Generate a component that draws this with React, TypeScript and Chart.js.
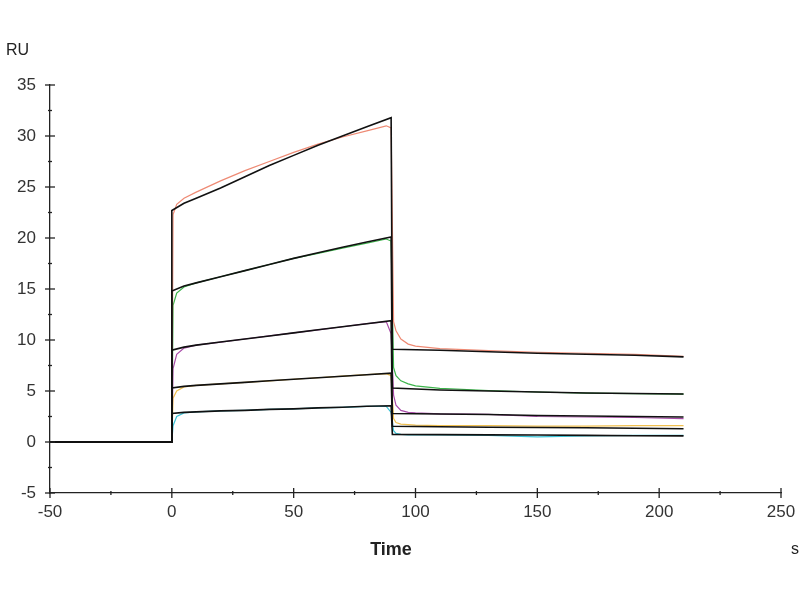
import React, { useEffect, useRef } from 'react';
import { Chart, registerables } from 'chart.js';

Chart.register(...registerables);

// measured curves (sampled at dataTime)
const dataTime = [-50, 0, 0.5, 2, 5, 10, 20, 30, 40, 50, 60, 70, 80, 88, 90, 91, 92, 94, 97, 100, 110, 130, 150, 170, 190, 210];
const salmonData = [0, 0, 22.3, 23.3, 23.9, 24.5, 25.6, 26.6, 27.5, 28.4, 29.2, 29.9, 30.5, 31.0, 30.8, 11.8, 10.9, 10.1, 9.6, 9.4, 9.15, 8.95, 8.8, 8.7, 8.6, 8.4];
const greenData = [0, 0, 13.4, 14.6, 15.2, 15.6, 16.2, 16.8, 17.4, 18.0, 18.5, 19.0, 19.5, 19.9, 19.7, 7.3, 6.5, 6.0, 5.7, 5.5, 5.25, 5.05, 4.9, 4.8, 4.75, 4.7];
const purpleData = [0, 0, 7.2, 8.6, 9.2, 9.5, 9.8, 10.1, 10.4, 10.7, 11.0, 11.3, 11.6, 11.8, 10.6, 4.6, 3.6, 3.1, 2.9, 2.85, 2.75, 2.7, 2.5, 2.45, 2.4, 2.3];
const yellowData = [0, 0, 4.3, 5.0, 5.4, 5.55, 5.7, 5.85, 6.0, 6.15, 6.3, 6.45, 6.6, 6.7, 6.5, 2.3, 1.9, 1.75, 1.7, 1.65, 1.6, 1.6, 1.55, 1.55, 1.6, 1.6];
const cyanData = [0, 0, 1.6, 2.5, 2.85, 2.95, 3.05, 3.1, 3.2, 3.25, 3.35, 3.4, 3.5, 3.5, 2.9, 1.1, 0.85, 0.75, 0.7, 0.7, 0.7, 0.65, 0.5, 0.6, 0.65, 0.65];

// fitted curves (black)
const fitTime = [-50, 0, 0, 5, 10, 20, 30, 40, 50, 60, 70, 80, 90, 90.5, 110, 130, 150, 170, 190, 210];
const fit1 = [0, 0, 22.7, 23.4, 23.9, 24.9, 26.0, 27.1, 28.1, 29.1, 30.0, 30.9, 31.8, 9.1, 9.0, 8.85, 8.7, 8.6, 8.5, 8.35];
const fit2 = [0, 0, 14.8, 15.3, 15.6, 16.2, 16.8, 17.4, 18.0, 18.55, 19.1, 19.6, 20.1, 5.3, 5.1, 5.0, 4.9, 4.8, 4.75, 4.7];
const fit3 = [0, 0, 9.0, 9.3, 9.5, 9.8, 10.1, 10.4, 10.7, 11.0, 11.3, 11.6, 11.9, 2.8, 2.75, 2.7, 2.6, 2.55, 2.5, 2.45];
const fit4 = [0, 0, 5.3, 5.45, 5.55, 5.7, 5.85, 6.0, 6.15, 6.3, 6.45, 6.6, 6.75, 1.55, 1.5, 1.45, 1.42, 1.4, 1.35, 1.3];
const fit5 = [0, 0, 2.8, 2.9, 2.95, 3.05, 3.1, 3.2, 3.25, 3.35, 3.4, 3.5, 3.55, 0.75, 0.72, 0.7, 0.68, 0.65, 0.62, 0.6];

const FONT = '"Liberation Sans", Arial, sans-serif';

const toPts = (xs: number[], ys: number[]) => ys.map((v, i) => ({ x: xs[i], y: v }));

const dataLine = (vals: number[], color: string) => ({
  data: toPts(dataTime, vals),
  borderColor: color,
  borderWidth: 1.2,
  pointRadius: 0,
  order: 1,
});

const fitLine = (vals: number[]) => ({
  data: toPts(fitTime, vals),
  borderColor: '#111',
  borderWidth: 1.6,
  pointRadius: 0,
  order: 0,
});

// major ticks crossing the axis + minor ticks between, and the axis captions
const axisMarks = {
  id: 'axisMarks',
  afterDraw(chart: any) {
    const { ctx, chartArea } = chart;
    const x = chart.scales.x;
    const y = chart.scales.y;
    const seg = (x1: number, y1: number, x2: number, y2: number) => {
      ctx.beginPath();
      ctx.moveTo(x1, y1);
      ctx.lineTo(x2, y2);
      ctx.stroke();
    };
    ctx.save();
    ctx.strokeStyle = '#222';
    ctx.lineWidth = 1.3;
    const b = chartArea.bottom;
    x.ticks.forEach((t: any, i: number) => {
      const px = x.getPixelForValue(t.value);
      seg(px, b - 5, px, b + 5);
      if (i < x.ticks.length - 1) {
        const m = x.getPixelForValue(t.value + 25);
        seg(m, b - 2, m, b + 2);
      }
    });
    const l = chartArea.left;
    y.ticks.forEach((t: any, i: number) => {
      const py = y.getPixelForValue(t.value);
      seg(l - 5, py, l + 5, py);
      if (i < y.ticks.length - 1) {
        const m = y.getPixelForValue(t.value + 2.5);
        seg(l - 2, m, l + 2, m);
      }
    });
    ctx.fillStyle = '#222';
    ctx.textBaseline = 'middle';
    ctx.textAlign = 'left';
    ctx.font = `16px ${FONT}`;
    ctx.fillText('RU', 6, 51);
    ctx.fillText('s', 791, 550);
    ctx.textAlign = 'center';
    ctx.font = `bold 18px ${FONT}`;
    ctx.fillText('Time', 391, 550);
    ctx.restore();
  },
};

export default function App() {
  const canvasRef = useRef<HTMLCanvasElement>(null);

  useEffect(() => {
    if (!canvasRef.current) return;
    const chart = new Chart(canvasRef.current, {
      type: 'line',
      data: {
        datasets: [
          fitLine(fit1),
          fitLine(fit2),
          fitLine(fit3),
          fitLine(fit4),
          fitLine(fit5),
          dataLine(salmonData, '#ee8a74'),
          dataLine(greenData, '#3cb44b'),
          dataLine(purpleData, '#a84ca8'),
          dataLine(yellowData, '#f0c050'),
          dataLine(cyanData, '#3cc3d6'),
        ] as any,
      },
      options: {
        responsive: false,
        animation: false,
        devicePixelRatio: 1,
        layout: { padding: { top: 85, right: 19, left: 0, bottom: 0 } },
        plugins: { legend: { display: false }, tooltip: { enabled: false } },
        scales: {
          x: {
            type: 'linear',
            min: -50,
            max: 250,
            afterFit: (s: any) => { s.height = 107; s.paddingLeft = 0; s.paddingRight = 0; },
            ticks: { stepSize: 50, padding: 9, color: '#333', font: { family: FONT, size: 17 } },
            grid: { drawOnChartArea: false, drawTicks: false },
            border: { display: true, color: '#222', width: 1.3 },
          },
          y: {
            type: 'linear',
            min: -5,
            max: 35,
            afterFit: (s: any) => { s.width = 50; s.paddingTop = 0; s.paddingBottom = 0; },
            ticks: { stepSize: 5, padding: 14, color: '#333', font: { family: FONT, size: 17 } },
            grid: { drawOnChartArea: false, drawTicks: false },
            border: { display: true, color: '#222', width: 1.3 },
          },
        },
      },
      plugins: [axisMarks],
    });
    return () => chart.destroy();
  }, []);

  return (
    <div style={{ position: 'absolute', left: 0, top: 0, width: 800, height: 600, background: '#fff' }}>
      <canvas ref={canvasRef} width={800} height={600} />
    </div>
  );
}
